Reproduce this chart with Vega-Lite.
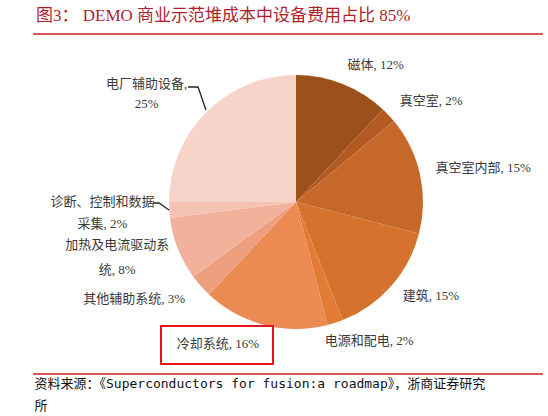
{
  "$schema": "https://vega.github.io/schema/vega-lite/v6.json",
  "width": 510,
  "height": 340,
  "padding": {"left": 32, "top": 7, "right": 6, "bottom": 0},
  "title": {
    "text": "图3： DEMO 商业示范堆成本中设备费用占比 85%",
    "anchor": "start",
    "frame": "group",
    "font": "Liberation Serif, Noto Sans CJK SC",
    "fontSize": 17,
    "fontWeight": "normal",
    "color": "#B01E2D",
    "offset": 8,
    "dx": 3
  },
  "data": {
    "values": [
      {"idx": 1, "name": "磁体", "value": 12, "label": "磁体, 12%"},
      {"idx": 2, "name": "真空室", "value": 2, "label": "真空室, 2%"},
      {"idx": 3, "name": "真空室内部", "value": 15, "label": "真空室内部, 15%"},
      {"idx": 4, "name": "建筑", "value": 15, "label": "建筑, 15%"},
      {"idx": 5, "name": "电源和配电", "value": 2, "label": "电源和配电, 2%"},
      {"idx": 6, "name": "冷却系统", "value": 16, "label": "冷却系统, 16%"},
      {"idx": 7, "name": "其他辅助系统", "value": 3, "label": "其他辅助系统, 3%"},
      {"idx": 8, "name": "加热及电流驱动系统", "value": 8, "label": "加热及电流驱动系\n统, 8%"},
      {"idx": 9, "name": "诊断、控制和数据采集", "value": 2, "label": "诊断、控制和数据\n采集, 2%"},
      {"idx": 10, "name": "电厂辅助设备", "value": 25, "label": "电厂辅助设备,\n25%"}
    ]
  },
  "layer": [
    {
      "mark": {"type": "rule", "color": "#D65A5E", "strokeWidth": 1.6},
      "encoding": {
        "y": {"datum": 1, "type": "quantitative", "scale": {"domain": [0, 1], "nice": false, "zero": false}, "axis": null}
      }
    },
    {
      "mark": {"type": "rule", "color": "#D65A5E", "strokeWidth": 1.6},
      "encoding": {
        "y": {"datum": 0, "type": "quantitative", "axis": null}
      }
    },
    {
      "mark": {"type": "rule", "opacity": 0},
      "encoding": {
        "x": {
          "datum": 0.5,
          "type": "quantitative",
          "scale": {"domain": [0, 1]},
          "axis": {
            "grid": false, "labels": false, "ticks": false, "domain": false,
            "title": ["资料来源：《Superconductors for fusion:a roadmap》，浙商证券研究", "所"],
            "titleAnchor": "start",
            "titleAlign": "left",
            "titleFont": "DejaVu Sans Mono, Noto Sans CJK SC",
            "titleFontSize": 13,
            "titleFontWeight": "normal",
            "titleColor": "#111111",
            "titleLineHeight": 22,
            "titlePadding": 3,
            "titleX": 1
          }
        }
      }
    },
    {
      "mark": {"type": "arc", "xOffset": 8, "yOffset": -2, "outerRadius": 127},
      "encoding": {
        "theta": {"field": "value", "type": "quantitative", "stack": true},
        "order": {"field": "idx", "type": "quantitative"},
        "color": {
          "field": "name",
          "type": "nominal",
          "legend": null,
          "scale": {
            "domain": ["磁体", "真空室", "真空室内部", "建筑", "电源和配电", "冷却系统", "其他辅助系统", "加热及电流驱动系统", "诊断、控制和数据采集", "电厂辅助设备"],
            "range": ["#9C511D", "#B25A21", "#C5682A", "#D5722E", "#E27B33", "#EB8B53", "#EE9F7E", "#F2B19B", "#F4C3B3", "#F6D4C9"]
          }
        }
      }
    },
    {
      "mark": {"type": "text", "clip": true, "xOffset": 6, "yOffset": -4, "radius": 145, "align": "left", "baseline": "middle", "font": "Liberation Serif, Noto Sans CJK SC", "fontSize": 13, "color": "#3A3A3A", "lineBreak": "\n"},
      "encoding": {
        "theta": {"field": "value", "type": "quantitative", "stack": true},
        "order": {"field": "idx", "type": "quantitative"},
        "text": {"field": "label", "type": "nominal"},
        "opacity": {"condition": {"test": "datum.idx <= 4", "value": 1}, "value": 0}
      }
    },
    {
      "mark": {"type": "text", "clip": true, "xOffset": -8, "yOffset": -1, "radius": 145, "align": "left", "baseline": "middle", "font": "Liberation Serif, Noto Sans CJK SC", "fontSize": 13, "color": "#3A3A3A", "lineBreak": "\n"},
      "encoding": {
        "theta": {"field": "value", "type": "quantitative", "stack": true},
        "order": {"field": "idx", "type": "quantitative"},
        "text": {"field": "label", "type": "nominal"},
        "opacity": {"condition": {"test": "datum.idx == 5", "value": 1}, "value": 0}
      }
    },
    {
      "mark": {"type": "text", "clip": true, "xOffset": 8, "yOffset": -3, "radius": 148, "align": "right", "baseline": "middle", "font": "Liberation Serif, Noto Sans CJK SC", "fontSize": 13, "color": "#3A3A3A", "lineBreak": "\n"},
      "encoding": {
        "theta": {"field": "value", "type": "quantitative", "stack": true},
        "order": {"field": "idx", "type": "quantitative"},
        "text": {"field": "label", "type": "nominal"},
        "opacity": {"condition": {"test": "datum.idx == 6 || datum.idx == 7", "value": 1}, "value": 0}
      }
    },
    {
      "mark": {"type": "text", "clip": true, "xOffset": 4, "yOffset": -28, "radius": 188, "align": "center", "baseline": "middle", "font": "Liberation Serif, Noto Sans CJK SC", "fontSize": 13, "color": "#3A3A3A", "lineBreak": "\n", "lineHeight": 25},
      "encoding": {
        "theta": {"field": "value", "type": "quantitative", "stack": true},
        "order": {"field": "idx", "type": "quantitative"},
        "text": {"field": "label", "type": "nominal"},
        "opacity": {"condition": {"test": "datum.idx == 8", "value": 1}, "value": 0}
      }
    },
    {
      "mark": {"type": "text", "clip": true, "xOffset": 8, "yOffset": -14, "radius": 194, "align": "center", "baseline": "middle", "font": "Liberation Serif, Noto Sans CJK SC", "fontSize": 13, "color": "#3A3A3A", "lineBreak": "\n", "lineHeight": 22},
      "encoding": {
        "theta": {"field": "value", "type": "quantitative", "stack": true},
        "order": {"field": "idx", "type": "quantitative"},
        "text": {"field": "label", "type": "nominal"},
        "opacity": {"condition": {"test": "datum.idx == 9", "value": 1}, "value": 0}
      }
    },
    {
      "mark": {"type": "text", "clip": true, "xOffset": -7, "yOffset": 14, "radius": 190, "align": "center", "baseline": "middle", "font": "Liberation Serif, Noto Sans CJK SC", "fontSize": 13, "color": "#3A3A3A", "lineBreak": "\n", "lineHeight": 20},
      "encoding": {
        "theta": {"field": "value", "type": "quantitative", "stack": true},
        "order": {"field": "idx", "type": "quantitative"},
        "text": {"field": "label", "type": "nominal"},
        "opacity": {"condition": {"test": "datum.idx == 10", "value": 1}, "value": 0}
      }
    },
    {
      "transform": [{"filter": "datum.idx == 10"}],
      "mark": {"type": "point", "shape": "M-108,-115L-98,-115L-90,-92M-143,1L-137,1L-127,8", "size": 4, "filled": false, "stroke": "#222222", "strokeWidth": 1.3, "opacity": 1, "xOffset": 8, "yOffset": -2},
      "encoding": {}
    },
    {
      "transform": [{"filter": "datum.idx == 6"}],
      "mark": {"type": "point", "shape": "M-1,-0.34H1V0.34H-1Z", "size": 12544, "filled": false, "stroke": "#E8151C", "strokeWidth": 2, "opacity": 1, "xOffset": -71, "yOffset": 141},
      "encoding": {}
    }
  ],
  "config": {"view": {"stroke": null}, "background": "#ffffff"}
}
